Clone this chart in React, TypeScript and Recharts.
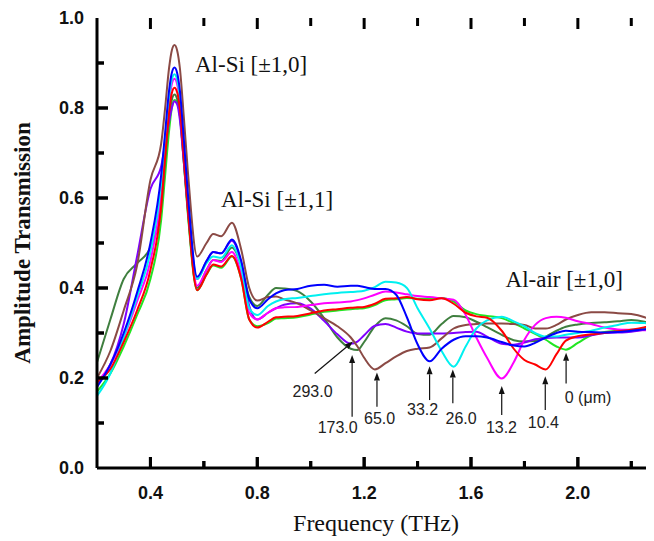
import React from "react";
import { LineChart, Line, XAxis, YAxis, ReferenceLine, ReferenceDot } from "recharts";

// Frequency grid (THz)
const frequencyTHz = [
  0.2, 0.25, 0.3, 0.35, 0.4, 0.44, 0.455, 0.47, 0.48, 0.49, 0.5, 0.51, 0.525, 0.54, 0.575, 0.61, 0.635, 0.665, 0.705, 0.74, 0.77, 0.8,
  0.84, 0.87, 0.9, 0.95, 1.0, 1.05, 1.1, 1.15, 1.175, 1.2, 1.24, 1.28, 1.32, 1.36, 1.4, 1.445, 1.49, 1.535,
  1.58, 1.62, 1.66, 1.715, 1.76, 1.8, 1.84, 1.88, 1.92, 1.955, 2.0, 2.05, 2.1, 2.15, 2.2, 2.25, 2.3,
];

// Amplitude transmission for each thickness (um)
const t0um = [
  0.17, 0.21, 0.27, 0.34, 0.42, 0.55, 0.65, 0.75, 0.8, 0.818, 0.815, 0.785, 0.68, 0.565, 0.395, 0.43, 0.45, 0.445, 0.47, 0.42, 0.33, 0.315,
  0.322, 0.332, 0.333, 0.335, 0.341, 0.347, 0.35, 0.353, 0.354, 0.355, 0.362, 0.373, 0.375, 0.378, 0.376, 0.376, 0.378, 0.37,
  0.35, 0.342, 0.338, 0.333, 0.322, 0.31, 0.298, 0.285, 0.27, 0.263, 0.278, 0.295, 0.302, 0.305, 0.307, 0.31, 0.315,
];
const t10_4um = [
  0.19, 0.22, 0.28, 0.35, 0.44, 0.58, 0.69, 0.79, 0.833, 0.845, 0.835, 0.8, 0.69, 0.575, 0.395, 0.43, 0.452, 0.448, 0.471, 0.42, 0.33, 0.312,
  0.325, 0.335, 0.336, 0.338, 0.344, 0.35, 0.353, 0.356, 0.357, 0.358, 0.365, 0.376, 0.377, 0.38, 0.375, 0.373, 0.377, 0.365,
  0.345, 0.337, 0.334, 0.305, 0.265, 0.24, 0.23, 0.219, 0.253, 0.283, 0.293, 0.297, 0.3, 0.304, 0.307, 0.313, 0.32,
];
const t13_2um = [
  0.19, 0.23, 0.29, 0.37, 0.46, 0.61, 0.715, 0.815, 0.853, 0.865, 0.853, 0.815, 0.705, 0.589, 0.405, 0.44, 0.462, 0.458, 0.48, 0.43, 0.345, 0.33,
  0.345, 0.355, 0.357, 0.358, 0.362, 0.366, 0.368, 0.37, 0.373, 0.377, 0.385, 0.392, 0.39, 0.386, 0.382, 0.38, 0.377, 0.374,
  0.34, 0.29, 0.245, 0.199, 0.235, 0.285, 0.318, 0.333, 0.336, 0.334, 0.326, 0.32, 0.312, 0.308, 0.307, 0.306, 0.306,
];
const t26um = [
  0.16, 0.21, 0.29, 0.38, 0.48, 0.63, 0.73, 0.825, 0.863, 0.875, 0.863, 0.825, 0.715, 0.6, 0.42, 0.455, 0.47, 0.467, 0.495, 0.445, 0.355, 0.34,
  0.36, 0.37, 0.375, 0.378, 0.382, 0.386, 0.389, 0.391, 0.392, 0.394, 0.402, 0.414, 0.412, 0.4, 0.355, 0.31, 0.26, 0.225,
  0.27, 0.31, 0.328, 0.336, 0.326, 0.315, 0.3, 0.292, 0.292, 0.296, 0.3, 0.305, 0.312, 0.318, 0.323, 0.322, 0.32,
];
const t33_2um = [
  0.18, 0.23, 0.3, 0.39, 0.5, 0.65, 0.745, 0.84, 0.878, 0.89, 0.878, 0.84, 0.73, 0.611, 0.425, 0.46, 0.48, 0.477, 0.508, 0.46, 0.375, 0.355,
  0.375, 0.388, 0.395, 0.398, 0.405, 0.407, 0.403, 0.405, 0.405, 0.402, 0.398, 0.398, 0.385, 0.335, 0.275, 0.237, 0.265, 0.285,
  0.293, 0.293, 0.29, 0.28, 0.272, 0.27, 0.278, 0.29, 0.3, 0.305, 0.303, 0.302, 0.301, 0.302, 0.305, 0.308, 0.31,
];
const t65um = [
  0.2, 0.26, 0.35, 0.45, 0.64, 0.72, 0.8, 0.89, 0.928, 0.94, 0.928, 0.89, 0.78, 0.66, 0.47, 0.5, 0.52, 0.515, 0.545, 0.485, 0.4, 0.372,
  0.38, 0.381, 0.375, 0.366, 0.35, 0.333, 0.315, 0.29, 0.27, 0.245, 0.219, 0.233, 0.248, 0.26, 0.265, 0.268, 0.288, 0.31,
  0.318, 0.32, 0.321, 0.321, 0.32, 0.318, 0.31, 0.31, 0.318, 0.33, 0.34, 0.346, 0.346, 0.344, 0.342, 0.335, 0.322,
];
const t173um = [
  0.235, 0.33, 0.42, 0.455, 0.49, 0.58, 0.68, 0.78, 0.818, 0.83, 0.82, 0.785, 0.68, 0.57, 0.4, 0.44, 0.462, 0.46, 0.49, 0.45, 0.38, 0.36,
  0.385, 0.4, 0.399, 0.393, 0.37, 0.333, 0.29, 0.265, 0.262, 0.28, 0.315, 0.333, 0.328, 0.315, 0.298, 0.296, 0.32, 0.338,
  0.335, 0.325, 0.313, 0.296, 0.284, 0.281, 0.282, 0.292, 0.305, 0.314, 0.319, 0.322, 0.324, 0.326, 0.329, 0.325, 0.315,
];
const t293um = [
  0.19, 0.23, 0.32, 0.47, 0.62, 0.67, 0.72, 0.77, 0.8, 0.815, 0.808, 0.775, 0.68, 0.578, 0.42, 0.46, 0.48, 0.477, 0.505, 0.455, 0.36, 0.33,
  0.345, 0.355, 0.363, 0.366, 0.354, 0.327, 0.297, 0.276, 0.281, 0.295, 0.316, 0.32, 0.312, 0.303, 0.299, 0.299, 0.299, 0.3,
  0.302, 0.303, 0.292, 0.276, 0.274, 0.279, 0.286, 0.289, 0.29, 0.29, 0.29, 0.295, 0.3, 0.301, 0.303, 0.307, 0.31,
];

// Axis ticks
const xTicks = [0.4, 0.6, 0.8, 1.0, 1.2, 1.4, 1.6, 1.8, 2.0, 2.2];
const yTicks = [0, 0.1, 0.2, 0.3, 0.4, 0.5, 0.6, 0.7, 0.8, 0.9, 1.0];
const yInnerTicks = [0.1, 0.2, 0.3, 0.4, 0.5, 0.6, 0.7, 0.8, 0.9];
const X_MIN = 0.2;
const X_MAX = 2.3;
const EPS = 0.0001;

// Layout
const CHART_W = 650;
const CHART_H = 533;
const M_TOP = 10;
const X_AXIS_H = 73;
const Y_AXIS_W = 89;
const PLOT_W = CHART_W - Y_AXIS_W;
const PLOT_H = CHART_H - M_TOP - X_AXIS_H;
const MAJOR_PX = 11;
const MINOR_PX = 7;
const yLen = (px: number) => px / PLOT_H;
const xLen = (px: number) => (px * (X_MAX - X_MIN)) / PLOT_W;

// Thickness markers (arrows pointing at dips)
const markerLabels = ["293.0", "173.0", "65.0", "33.2", "26.0", "13.2", "10.4", "0 (\u03bcm)"];
const markerTailX = [1.015, 1.155, 1.248, 1.445, 1.532, 1.715, 1.878, 1.956];
const markerTailY = [0.21, 0.114, 0.136, 0.151, 0.144, 0.118, 0.129, 0.188];
const markerTipX = [1.158, 1.155, 1.248, 1.445, 1.532, 1.715, 1.878, 1.956];
const markerTipY = [0.281, 0.251, 0.212, 0.226, 0.219, 0.182, 0.204, 0.256];
const markerLabelX = [1.007, 1.101, 1.258, 1.419, 1.563, 1.714, 1.871, 1.951];
const markerLabelY = [0.169, 0.089, 0.111, 0.129, 0.111, 0.09, 0.102, 0.156];

// Peak annotations
const peakLabels = ["Al-Si [\u00b11,0]", "Al-Si [\u00b11,1]", "Al-air [\u00b11,0]"];
const peakLabelX = [0.777, 0.874, 1.949];
const peakLabelY = [0.896, 0.596, 0.418];

const series = [
  { key: "s0", values: t0um, color: "#22e622" },
  { key: "s173", values: t173um, color: "#3f7f3f" },
  { key: "s293", values: t293um, color: "#8000ff" },
  { key: "s65", values: t65um, color: "#8b4a45" },
  { key: "s13", values: t13_2um, color: "#ff00ff" },
  { key: "s26", values: t26um, color: "#00f0f0" },
  { key: "s10", values: t10_4um, color: "#ff0000" },
  { key: "s33", values: t33_2um, color: "#0000ff" },
];

const data = frequencyTHz.map((f, i) => {
  const row: Record<string, number> = { f };
  series.forEach((s) => {
    row[s.key] = s.values[i];
  });
  return row;
});

const tickFont = '"Liberation Sans", Arial, sans-serif';
const serifFont = '"Liberation Serif", "Times New Roman", serif';

const isMajorX = (v: number) => Math.round(v * 10) % 4 === 0;
const isMajorY = (v: number) => Math.round(v * 10) % 2 === 0;
const xTickPx = (v: number) => (isMajorX(v) ? MAJOR_PX : MINOR_PX);
const yTickPx = (v: number) => (isMajorY(v) ? MAJOR_PX : MINOR_PX);

const tickDot = (dx: number, dy: number) => (p: any) => (
  <line x1={p.cx} y1={p.cy} x2={p.cx + dx} y2={p.cy + dy} stroke="#000" strokeWidth={3} />
);

const bottomLabelDot = (txt: string) => (p: any) => (
  <text x={p.cx} y={p.cy + 31} textAnchor="middle" fontFamily={tickFont} fontWeight="bold" fontSize={18} fill="#111">
    {txt}
  </text>
);

const leftLabelDot = (txt: string) => (p: any) => (
  <text x={p.cx - 13} y={p.cy} textAnchor="end" dominantBaseline="central" fontFamily={tickFont} fontWeight="bold" fontSize={18} fill="#111">
    {txt}
  </text>
);

const Arrow = (props: any) => {
  const { x1, y1, x2, y2 } = props;
  const ang = Math.atan2(y2 - y1, x2 - x1);
  const L = 8;
  const W = 3;
  const bx = x2 - L * Math.cos(ang);
  const by = y2 - L * Math.sin(ang);
  const px = -Math.sin(ang) * W;
  const py = Math.cos(ang) * W;
  return (
    <g>
      <line x1={x1} y1={y1} x2={bx} y2={by} stroke="#111" strokeWidth={1.2} />
      <polygon points={`${x2},${y2} ${bx + px},${by + py} ${bx - px},${by - py}`} fill="#111" />
    </g>
  );
};

export default function App() {
  return (
    <div style={{ position: "relative", width: 646, height: CHART_H, overflow: "hidden", background: "#fff" }}>
      <LineChart width={CHART_W} height={CHART_H} data={data} margin={{ top: M_TOP, right: 0, bottom: 0, left: 0 }}>
        <XAxis
          dataKey="f"
          type="number"
          domain={[X_MIN, X_MAX]}
          ticks={xTicks}
          height={X_AXIS_H}
          tickLine={false}
          tick={false}
          axisLine={{ stroke: "#000", strokeWidth: 3 }}
          allowDataOverflow
        />
        <XAxis
          xAxisId="top"
          orientation="top"
          dataKey="f"
          type="number"
          domain={[X_MIN, X_MAX]}
          ticks={xTicks}
          height={0}
          tickLine={false}
          tick={false}
          axisLine={{ stroke: "#000", strokeWidth: 3 }}
          allowDataOverflow
        />
        <YAxis
          type="number"
          domain={[0, 1]}
          ticks={yTicks}
          width={Y_AXIS_W}
          tickLine={false}
          tick={false}
          axisLine={{ stroke: "#000", strokeWidth: 3 }}
        />
        <YAxis
          yAxisId="right"
          orientation="right"
          type="number"
          domain={[0, 1]}
          ticks={yTicks}
          width={0}
          tickLine={false}
          tick={false}
          axisLine={{ stroke: "#000", strokeWidth: 3 }}
        />
        {series.map((s) => (
          <Line
            key={s.key}
            dataKey={s.key}
            type="monotone"
            stroke={s.color}
            strokeWidth={2}
            dot={false}
            activeDot={false}
            isAnimationActive={false}
          />
        ))}
        {/* bottom ticks: anchored inside the plot, drawn down to the axis */}
        {xTicks.map((v) => (
          <ReferenceDot key={"bt" + v} x={v} y={yLen(xTickPx(v))} r={1} ifOverflow="visible" shape={tickDot(0, xTickPx(v))} />
        ))}
        {xTicks.map((v) => (
          <ReferenceLine
            key={"bs" + v}
            segment={[
              { x: v, y: yLen(xTickPx(v)) },
              { x: v, y: EPS },
            ]}
            stroke="#000"
            strokeWidth={3}
            ifOverflow="visible"
          />
        ))}
        {xTicks.filter(isMajorX).map((v) => (
          <ReferenceDot key={"bl" + v} x={v} y={EPS} r={1} ifOverflow="visible" shape={bottomLabelDot(v.toFixed(1))} />
        ))}
        {/* top ticks */}
        {xTicks.map((v) => (
          <ReferenceDot key={"tt" + v} x={v} y={1} r={1} ifOverflow="visible" shape={tickDot(0, isMajorX(v) ? 11 : 8)} />
        ))}
        {/* left ticks */}
        {yInnerTicks.map((v) => (
          <ReferenceDot key={"lt" + v} x={X_MIN + xLen(yTickPx(v))} y={v} r={1} ifOverflow="visible" shape={tickDot(-yTickPx(v), 0)} />
        ))}
        {yInnerTicks.map((v) => (
          <ReferenceLine
            key={"ls" + v}
            segment={[
              { x: X_MIN + xLen(yTickPx(v)), y: v },
              { x: X_MIN + EPS, y: v },
            ]}
            stroke="#000"
            strokeWidth={3}
            ifOverflow="visible"
          />
        ))}
        {yTicks.filter(isMajorY).map((v) => (
          <ReferenceDot
            key={"ll" + v}
            x={X_MIN + EPS}
            y={Math.min(Math.max(v, EPS), 1)}
            r={1}
            ifOverflow="visible"
            shape={leftLabelDot(v.toFixed(1))}
          />
        ))}
        {/* right ticks */}
        {yInnerTicks.map((v) => (
          <ReferenceDot key={"rt" + v} x={X_MAX - xLen(yTickPx(v))} y={v} r={1} ifOverflow="visible" shape={tickDot(yTickPx(v), 0)} />
        ))}
        {markerLabels.map((lab, i) => (
          <ReferenceLine
            key={"arr" + i}
            segment={[
              { x: markerTailX[i], y: markerTailY[i] },
              { x: markerTipX[i], y: markerTipY[i] },
            ]}
            shape={Arrow}
            ifOverflow="visible"
          />
        ))}
        {markerLabels.map((lab, i) => (
          <ReferenceDot
            key={"lab" + i}
            x={markerLabelX[i]}
            y={markerLabelY[i]}
            r={1}
            ifOverflow="visible"
            shape={(p: any) => (
              <text
                x={p.cx}
                y={p.cy}
                textAnchor={i === markerLabels.length - 1 ? "start" : "middle"}
                dominantBaseline="central"
                fontFamily={tickFont}
                fontSize={16}
                fill="#222"
              >
                {lab}
              </text>
            )}
          />
        ))}
        {peakLabels.map((lab, i) => (
          <ReferenceDot
            key={"pk" + i}
            x={peakLabelX[i]}
            y={peakLabelY[i]}
            r={1}
            ifOverflow="visible"
            shape={(p: any) => (
              <text x={p.cx} y={p.cy} textAnchor="middle" dominantBaseline="central" fontFamily={serifFont} fontSize={23} fill="#111">
                {lab}
              </text>
            )}
          />
        ))}
      </LineChart>
      <div
        style={{
          position: "absolute",
          left: 14,
          top: 235,
          transform: "translate(-50%, -50%) rotate(-90deg)",
          fontFamily: serifFont,
          fontWeight: "bold",
          fontSize: 23,
          whiteSpace: "nowrap",
          lineHeight: 1,
          color: "#111",
        }}
      >
        Amplitude Transmission
      </div>
      <div
        style={{
          position: "absolute",
          left: 368,
          top: 515,
          transform: "translate(-50%, -50%)",
          fontFamily: serifFont,
          fontSize: 24,
          whiteSpace: "nowrap",
          lineHeight: 1,
          color: "#111",
        }}
      >
        Frequency (THz)
      </div>
    </div>
  );
}
